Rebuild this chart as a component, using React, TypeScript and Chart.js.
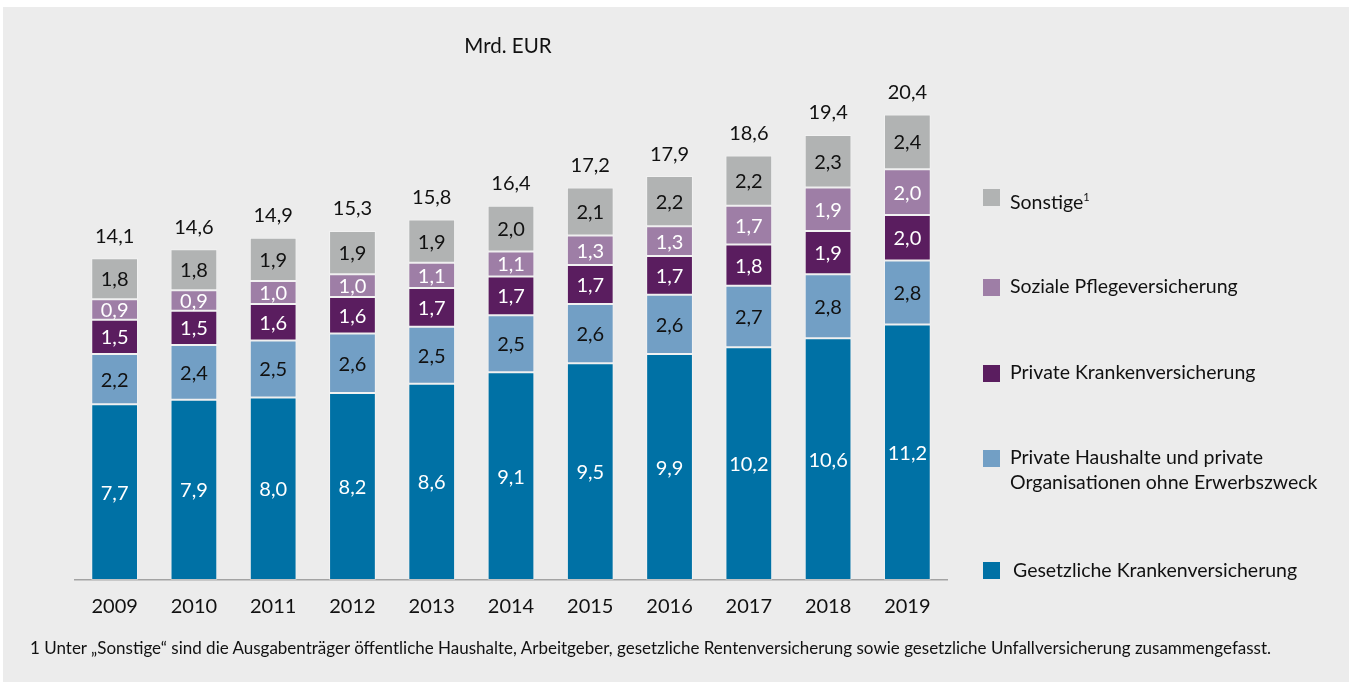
import React, { useEffect, useRef } from "react";
import { Chart, registerables } from "chart.js";

Chart.register(...registerables);

const years = ["2009", "2010", "2011", "2012", "2013", "2014", "2015", "2016", "2017", "2018", "2019"];
const gesetzliche = [7.7, 7.9, 8.0, 8.2, 8.6, 9.1, 9.5, 9.9, 10.2, 10.6, 11.2];
const privateHaushalte = [2.2, 2.4, 2.5, 2.6, 2.5, 2.5, 2.6, 2.6, 2.7, 2.8, 2.8];
const privateKranken = [1.5, 1.5, 1.6, 1.6, 1.7, 1.7, 1.7, 1.7, 1.8, 1.9, 2.0];
const sozialePflege = [0.9, 0.9, 1.0, 1.0, 1.1, 1.1, 1.3, 1.3, 1.7, 1.9, 2.0];
const sonstige = [1.8, 1.8, 1.9, 1.9, 1.9, 2.0, 2.1, 2.2, 2.2, 2.3, 2.4];
const totals = [14.1, 14.6, 14.9, 15.3, 15.8, 16.4, 17.2, 17.9, 18.6, 19.4, 20.4];

const FONT = "Lato, 'Noto Sans', sans-serif";

const seriesDefs = [
  { label: "Gesetzliche Krankenversicherung", data: gesetzliche, color: "#0071a5", text: "#ffffff" },
  { label: "Private Haushalte und private Organisationen ohne Erwerbszweck", data: privateHaushalte, color: "#729fc5", text: "#111111" },
  { label: "Private Krankenversicherung", data: privateKranken, color: "#5a1d5f", text: "#ffffff" },
  { label: "Soziale Pflegeversicherung", data: sozialePflege, color: "#9e7ea6", text: "#ffffff" },
  { label: "Sonstige", data: sonstige, color: "#b1b3b3", text: "#111111" },
];

const fmt = (v: number) => v.toFixed(1).replace(".", ",");

const labelPlugin = {
  id: "segLabels",
  afterDatasetsDraw(chart: any) {
    const ctx = chart.ctx;
    ctx.save();
    ctx.font = `20px ${FONT}`;
    ctx.textAlign = "center";
    ctx.textBaseline = "middle";
    chart.data.datasets.forEach((ds: any, di: number) => {
      const meta = chart.getDatasetMeta(di);
      meta.data.forEach((el: any, i: number) => {
        ctx.fillStyle = seriesDefs[di].text;
        const y = (el.y + el.base) / 2;
        ctx.fillText(fmt(ds.data[i]), el.x, y + 1);
      });
    });
    const lastMeta = chart.getDatasetMeta(chart.data.datasets.length - 1);
    ctx.fillStyle = "#111111";
    lastMeta.data.forEach((el: any, i: number) => {
      ctx.fillText(fmt(totals[i]), el.x, el.y - 22);
    });
    ctx.restore();
  },
};

const legendItems = [
  { label: <>Sonstige<sup style={{ fontSize: "11px", verticalAlign: "8px" }}>1</sup></>, color: "#b1b3b3", top: 189, textTop: 184 },
  { label: <>Soziale Pflegeversicherung</>, color: "#9e7ea6", top: 279, textTop: 273 },
  { label: <>Private Krankenversicherung</>, color: "#5a1d5f", top: 365, textTop: 359 },
  { label: <>Private Haushalte und private<br />Organisationen ohne Erwerbszweck</>, color: "#729fc5", top: 450, textTop: 444 },
  { label: <>Gesetzliche Krankenversicherung</>, color: "#0071a5", top: 562, textTop: 557, offset: 3 },
];

export default function App() {
  const ref = useRef<HTMLCanvasElement>(null);
  useEffect(() => {
    document.body.style.margin = "0";
    const chart = new Chart(ref.current!, {
      type: "bar",
      data: {
        labels: years,
        datasets: seriesDefs.map((s) => ({
          label: s.label,
          data: s.data,
          backgroundColor: s.color,
          borderColor: "rgba(255,255,255,0.35)",
          borderWidth: 1,
          borderSkipped: false,
          categoryPercentage: 1,
          barPercentage: 0.59,
        })),
      },
      options: {
        animation: false,
        responsive: true,
        maintainAspectRatio: false,
        layout: { padding: { left: 75, right: 402, top: 78, bottom: 48 } },
        plugins: { legend: { display: false }, title: { display: false }, tooltip: { enabled: false } },
        scales: {
          x: {
            stacked: true,
            grid: { display: false, drawTicks: false },
            border: { display: true, color: "#a3a3a3", width: 1.5 },
            ticks: { color: "#111111", font: { family: FONT, size: 20 }, padding: 15 },
          },
          y: {
            stacked: true,
            display: false,
            min: 0,
            max: 22,
          },
        },
      },
      plugins: [labelPlugin],
    });
    return () => chart.destroy();
  }, []);

  return (
    <div style={{ position: "fixed", left: 0, top: 0, width: 1349, height: 682, background: "#ffffff", fontFamily: FONT, color: "#111" }}>
      <div style={{ position: "absolute", left: 3, top: 7, right: 0, bottom: 0, background: "#ececec" }} />
      <div style={{ position: "absolute", left: 0, top: 0, width: 1349, height: 682 }}>
        <canvas ref={ref} />
      </div>
      <div style={{ position: "absolute", left: 0, width: 1016, top: 33, textAlign: "center", fontSize: 20.5 }}>Mrd. EUR</div>
      {legendItems.map((it, i) => (
        <React.Fragment key={i}>
          <div style={{ position: "absolute", left: 983, top: it.top, width: 17, height: 17, background: it.color }} />
          <div style={{ position: "absolute", left: 1010 + (it.offset || 0), top: it.textTop, fontSize: 19.5, lineHeight: "25px", whiteSpace: "nowrap" }}>{it.label}</div>
        </React.Fragment>
      ))}
      <div style={{ position: "absolute", left: 30, top: 637, fontSize: 17, whiteSpace: "nowrap" }}>
        1 Unter „Sonstige“ sind die Ausgabenträger öffentliche Haushalte, Arbeitgeber, gesetzliche Rentenversicherung sowie gesetzliche Unfallversicherung zusammengefasst.
      </div>
    </div>
  );
}
